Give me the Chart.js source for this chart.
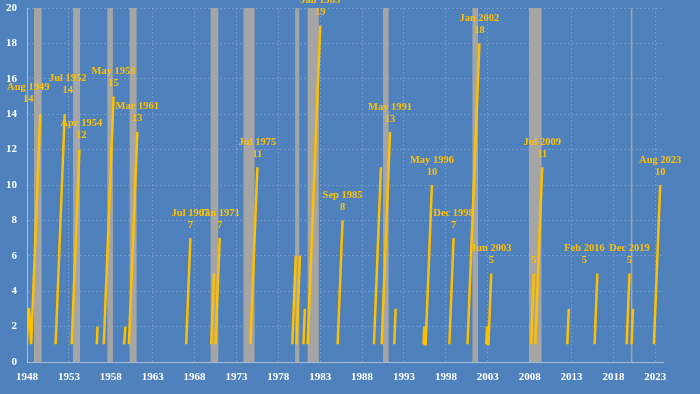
<!DOCTYPE html>
<html>
<head>
<meta charset="utf-8">
<script src="https://cdn.jsdelivr.net/npm/chart.js@4.4.0/dist/chart.umd.min.js"></script>
<style>
  html, body { margin: 0; padding: 0; background: #4f81bd; }
  #wrap { width: 700px; height: 394px; }
</style>
</head>
<body>
<div id="wrap"><canvas id="chart"></canvas></div>
<script>
// monthly run counter, null = break in the line
const runMonths = [
  '1948-01', '1948-03', '1948-04', '1948-07', '1949-08', null,
  '1951-06', '1952-07', null,
  '1953-05', '1954-04', null,
  '1956-05', '1956-06', null,
  '1957-03', '1958-05', null,
  '1959-08', '1959-10', null,
  '1960-03', '1961-03', null,
  '1967-01', '1967-07', null,
  '1970-01', '1970-05', null,
  '1970-07', '1971-01', null,
  '1974-09', '1975-07', null,
  '1979-09', '1980-02', null,
  '1980-03', '1980-08', null,
  '1981-01', '1981-03', null,
  '1981-07', '1983-01', null,
  '1985-02', '1985-09', null,
  '1989-06', '1990-04', null,
  '1990-05', '1991-05', null,
  '1991-11', '1992-01', null,
  '1995-05', '1995-06', '1995-07', '1995-08', '1996-05', null,
  '1998-06', '1998-12', null,
  '2000-08', '2002-01', null,
  '2002-11', '2002-12', '2003-01', '2003-02', '2003-06', null,
  '2008-03', '2008-07', null,
  '2008-09', '2009-07', null,
  '2012-07', '2012-09', null,
  '2015-10', '2016-02', null,
  '2019-08', '2019-12', null,
  '2020-03', '2020-05', null,
  '2022-11', '2023-08'
];
const runValues = [
  1, 3, 3, 1, 14, null,
  1, 14, null,
  1, 12, null,
  1, 2, null,
  1, 15, null,
  1, 2, null,
  1, 13, null,
  1, 7, null,
  1, 5, null,
  1, 7, null,
  1, 11, null,
  1, 6, null,
  1, 6, null,
  1, 3, null,
  1, 19, null,
  1, 8, null,
  1, 11, null,
  1, 13, null,
  1, 3, null,
  1, 2, 1, 1, 10, null,
  1, 7, null,
  1, 18, null,
  1, 2, 1, 1, 5, null,
  1, 5, null,
  1, 11, null,
  1, 3, null,
  1, 5, null,
  1, 5, null,
  1, 3, null,
  1, 10
];

const peakMonths = ['1949-08', '1952-07', '1954-04', '1958-05', '1961-03', '1967-07', '1971-01',
  '1975-07', '1983-01', '1985-09', '1991-05', '1996-05', '1998-12', '2002-01', '2003-06',
  '2008-07', '2009-07', '2016-02', '2019-12', '2023-08'];
const peakValues = [14, 14, 12, 15, 13, 7, 7, 11, 19, 8, 13, 10, 7, 18, 5, 5, 11, 5, 5, 10];
const peakNames = ['Aug 1949', 'Jul 1952', 'Apr 1954', 'May 1958', 'Mar 1961', 'Jul 1967', 'Jan 1971',
  'Jul 1975', 'Jan 1983', 'Sep 1985', 'May 1991', 'May 1996', 'Dec 1998', 'Jan 2002', 'Jun 2003',
  '', 'Jul 2009', 'Feb 2016', 'Dec 2019', 'Aug 2023'];

const recStart = ['1948-11', '1953-07', '1957-08', '1960-04', '1969-12', '1973-11', '1980-01',
  '1981-07', '1990-07', '2001-03', '2007-12', '2020-02'];
const recEnd = ['1949-10', '1954-05', '1958-04', '1961-02', '1970-11', '1975-03', '1980-07',
  '1982-11', '1991-03', '2001-11', '2009-06', '2020-04'];

const tickYears = [1948, 1953, 1958, 1963, 1968, 1973, 1978, 1983, 1988, 1993, 1998, 2003, 2008, 2013, 2018, 2023];

const BASE_YEAR = 1948;
function monthIndex(s) {
  const [y, m] = s.split('-').map(Number);
  return (y - BASE_YEAR) * 12 + (m - 1);
}

const points = [];
let lastX = 0;
runMonths.forEach((mo, i) => {
  if (mo === null) {
    points.push({ x: lastX, y: null });
  } else {
    lastX = monthIndex(mo);
    points.push({ x: lastX, y: runValues[i] });
  }
});

// small hand nudges for labels that were moved in the original
const labelNudge = {
  'Aug 1949': [-12, -2],
  'Jul 1952': [3, -11],
  'Apr 1954': [2, -1],
  'Mar 1961': [0, -1],
  'Feb 2016': [-13, 0]
};

const recessionBars = {
  id: 'recessionBars',
  beforeDatasetsDraw(chart) {
    const { ctx, chartArea, scales } = chart;
    ctx.save();
    ctx.fillStyle = '#a5a5a5';
    recStart.forEach((s, i) => {
      const x1 = scales.x.getPixelForValue(monthIndex(s));
      const x2 = scales.x.getPixelForValue(monthIndex(recEnd[i]));
      ctx.fillRect(x1, chartArea.top, Math.max(x2 - x1, 1.5), chartArea.bottom - chartArea.top);
    });
    ctx.restore();
  }
};

const peakLabels = {
  id: 'peakLabels',
  afterDatasetsDraw(chart) {
    const { ctx, scales } = chart;
    ctx.save();
    ctx.fillStyle = '#ffc000';
    ctx.font = 'bold 10.5px "Liberation Serif", "DejaVu Serif", serif';
    ctx.textAlign = 'center';
    ctx.textBaseline = 'middle';
    peakMonths.forEach((mo, i) => {
      const nudge = labelNudge[peakNames[i]] || [0, 0];
      const x = scales.x.getPixelForValue(monthIndex(mo)) + nudge[0];
      const y = scales.y.getPixelForValue(peakValues[i]) + nudge[1];
      ctx.fillText(String(peakValues[i]), x, y - 13);
      if (peakNames[i]) ctx.fillText(peakNames[i], x, y - 25);
    });
    ctx.restore();
  }
};

const gridColor = 'rgba(210, 220, 235, 0.25)';
const tickFont = { family: '"Liberation Serif", "DejaVu Serif", serif', size: 11, weight: 'bold' };

new Chart(document.getElementById('chart'), {
  type: 'line',
  data: {
    datasets: [{
      data: points,
      borderColor: '#ffc000',
      borderWidth: 2.5,
      pointRadius: 0,
      spanGaps: false,
      tension: 0
    }]
  },
  options: {
    responsive: true,
    maintainAspectRatio: false,
    animation: false,
    layout: { padding: { top: 0, right: 37, left: 0, bottom: 0 } },
    plugins: {
      legend: { display: false },
      tooltip: { enabled: false }
    },
    scales: {
      x: {
        type: 'linear',
        min: 0,
        max: monthIndex('2023-12'),
        afterBuildTicks: (scale) => {
          scale.ticks = tickYears.map(y => ({ value: (y - BASE_YEAR) * 12 }));
        },
        afterFit: (scale) => { scale.height = 32; },
        ticks: {
          color: '#ffffff',
          font: tickFont,
          padding: 9,
          maxRotation: 0,
          autoSkip: false,
          callback: (v) => String(BASE_YEAR + v / 12)
        },
        grid: { color: gridColor, drawTicks: false },
        border: { color: 'rgba(215, 220, 230, 0.6)', dash: [2, 2] }
      },
      y: {
        min: 0,
        max: 20,
        afterFit: (scale) => {
          scale.width = 27;
          scale.paddingTop = 8;
          scale.paddingBottom = 0;
        },
        ticks: { stepSize: 2, color: '#ffffff', font: tickFont, padding: 10 },
        grid: { color: gridColor, drawTicks: false },
        border: { color: 'rgba(215, 220, 230, 0.6)', dash: [2, 2] }
      }
    }
  },
  plugins: [recessionBars, peakLabels]
});
</script>
</body>
</html>
